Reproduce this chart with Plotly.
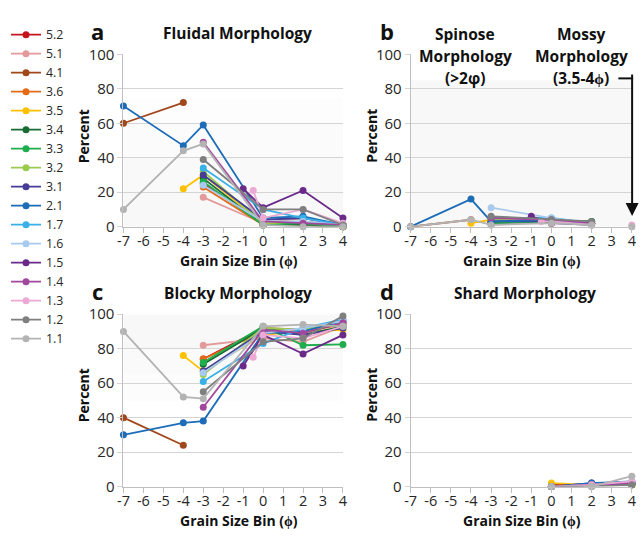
import plotly.graph_objects as go

W, H = 644, 536

# ---------------- data ----------------
series_names = ["5.2", "5.1", "4.1", "3.6", "3.5", "3.4", "3.3", "3.2", "3.1",
                "2.1", "1.7", "1.6", "1.5", "1.4", "1.3", "1.2", "1.1"]
series_colors = ["#c5141b", "#e39a9a", "#a0471c", "#e56a17", "#ffc000", "#1a6b34",
                 "#20ad4c", "#9acb4f", "#453d96", "#1c6cb8", "#39b0e6", "#a8caee",
                 "#6b2a8a", "#a2479e", "#eba9d3", "#7f7f7f", "#b3b3b3"]

# grain size bins (phi) sampled for each series
bins = [
    [-3, 0, 2, 4],            # 5.2
    [-3, 0, 2, 4],            # 5.1
    [-7, -4],                 # 4.1
    [-3, 0, 2, 4],            # 3.6
    [-4, -3, 0, 2, 4],        # 3.5
    [-3, 0, 2, 4],            # 3.4
    [-3, 0, 2, 4],            # 3.3
    [-3, 0, 2, 4],            # 3.2
    [-3, 0, 2, 4],            # 3.1
    [-7, -4, -3, 0, 2, 4],    # 2.1
    [-3, 0, 2, 4],            # 1.7
    [-3, 0, 2, 4],            # 1.6
    [-1, 0, 2, 4],            # 1.5
    [-3, 0, 2, 4],            # 1.4
    [-0.5, 0, 2, 4],          # 1.3
    [-3, 0, 2, 4],            # 1.2
    [-7, -4, -3, 0, 2, 4],    # 1.1
]

fluidal = [
    [25, 2, 1, 0],
    [17, 2, 5, 1],
    [60, 72],
    [23, 1, 1, 0],
    [22, 30, 2, 1, 0],
    [28, 1, 1, 0],
    [26, 1, 2, 0],
    [32, 2, 3, 1],
    [30, 4, 5, 1],
    [70, 47, 59, 5, 6, 1],
    [34, 10, 5, 1],
    [24, 3, 3, 1],
    [22, 11, 21, 5],
    [49, 3, 2, 1],
    [21, 5, 10, 2],
    [39, 10, 10, 1],
    [10, 44, 48, 1, 0, 0],
]

spinose = [
    [2, 3, 2, None],
    [1, 3, 2, None],
    [0, 4],
    [3, 2, 2, None],
    [2, 4, 3, 2, None],
    [2, 3, 3, None],
    [2, 3, 3, None],
    [4, 3, 2, None],
    [3, 3, 2, None],
    [0, 16, 3, 4, 2, None],
    [5, 5, 2, None],
    [11, 5, 2, None],
    [6, 2, 1, None],
    [5, 4, 2, None],
    [3, 3, 1, None],
    [6, 4, 3, None],
    [0, 4, 1, 2, 1, None],
]

# mossy morphology (3.5-4 phi), plotted at the 4 phi bin of panel b
mossy = [None, None, None, None, None, None, None, None, None,
         None, None, None, None, None, 1, None, 0]

blocky = [
    [74, 92, 91, 95],
    [82, 86, 84, 93],
    [40, 24],
    [74, 90, 90, 94],
    [76, 67, 88, 90, 91],
    [71, 92, 88, 93],
    [72, 93, 82, 82.5],
    [65, 92, 91, 95],
    [67, 90, 88, 92],
    [30, 37, 38, 89, 90, 96],
    [61, 83, 92, 97],
    [66, 89, 92, 96],
    [70, 88, 77, 88],
    [46, 91, 89, 95],
    [75, 88, 86, 93],
    [55, 84, 86, 99],
    [90, 52, 51, 93, 94, 93],
]

shard = [
    [None, 1, 1, 2],
    [None, 0, 1, 1],
    [None, None],
    [None, 0, 1, 1],
    [None, None, 2, 1, 1],
    [None, 0, 1, 1],
    [None, 0, 1, 1],
    [None, 0, 1, 1],
    [None, 0, 2, 2],
    [None, None, None, 0, 2, 3],
    [None, 0, 1, 2],
    [None, 0, 1, 3],
    [None, 0, 1, 2],
    [None, 0, 1, 2],
    [None, 0, 1, 3],
    [None, 0, 0, 1],
    [None, None, None, 0, 0, 6],
]

x_ticks = [-7, -6, -5, -4, -3, -2, -1, 0, 1, 2, 3, 4]
x_ticklabels = ["-7", "-6", "-5", "-4", "-3", "-2", "-1", "0", "1", "2", "3", "4"]
y_ticks = [0, 20, 40, 60, 80, 100]

# ---------------- layout helpers ----------------
def px(x):
    return x / W

def py(y):
    return 1 - y / H

FONT = "Open Sans"
TXT = "#262626"

fig = go.Figure()

panels = [("x", "y", fluidal), ("x2", "y2", spinose), ("x3", "y3", blocky), ("x4", "y4", shard)]
for pi, (xr, yr, data) in enumerate(panels):
    for i, name in enumerate(series_names):
        fig.add_trace(go.Scatter(
            x=bins[i], y=data[i], xaxis=xr, yaxis=yr,
            mode="lines+markers", name=name, legendgroup=name,
            showlegend=(pi == 0),
            line=dict(color=series_colors[i], width=1.8),
            marker=dict(color=series_colors[i], size=7),
            cliponaxis=False, connectgaps=False,
        ))

# mossy points in panel b
for i, name in enumerate(series_names):
    if mossy[i] is not None:
        fig.add_trace(go.Scatter(
            x=[x_ticks[-1]], y=[mossy[i]], xaxis="x2", yaxis="y2",
            mode="markers", name=name, legendgroup=name, showlegend=False,
            marker=dict(color=series_colors[i], size=7), cliponaxis=False,
        ))

xdom_l = [px(119.5), px(342.8)]
xdom_r = [px(411.7), px(636.7)]
ydom_t = [py(224), py(45)]
ydom_b = [py(494), py(315)]

def xax(dom, anchor):
    return dict(domain=dom, anchor=anchor, range=[-7, 4], tickmode="array",
                tickvals=x_ticks, ticktext=x_ticklabels, showgrid=False,
                showline=True, linecolor="#bfbfbf", linewidth=1,
                ticks="outside", ticklen=5, tickcolor="#bfbfbf",
                ticklabelstandoff=-4,
                tickfont=dict(family=FONT, size=14.5, color=TXT), zeroline=False)

def yax(dom, anchor):
    return dict(domain=dom, anchor=anchor, range=[0, 100], tickmode="array",
                tickvals=y_ticks, showgrid=True, gridcolor="#d4d4d4", gridwidth=1,
                showline=True, linecolor="#bfbfbf", linewidth=1,
                ticks="outside", ticklen=5, tickcolor="#d4d4d4",
                tickfont=dict(family=FONT, size=15, color=TXT), zeroline=False)

annotations = []

def text(x, y, s, size=15.5, bold=True, bg=None):
    a = dict(x=px(x), y=py(y), xref="paper", yref="paper", showarrow=False,
             text=("<b>%s</b>" % s) if bold else s, xanchor="center", yanchor="middle",
             font=dict(family=FONT, size=size, color="#111111"))
    if bg:
        a["bgcolor"] = bg
        a["borderpad"] = 1
    annotations.append(a)

# panel letters and titles
text(93, 21, "a", size=22)
text(235.5, 23, "Fluidal Morphology")
text(388, 21, "b", size=22)
text(93, 291, "c", size=22)
text(236, 293, "Blocky Morphology")
text(388, 291, "d", size=22)
text(528, 293, "Shard Morphology")

# spinose / mossy titles
text(467, 24, "Spinose")
text(467, 47, "Morphology", bg="white")
text(467, 70, "(&gt;2φ)")
text(585.5, 24, "Mossy")
text(585.5, 47, "Morphology", bg="white")
text(585.5, 70, "(3.5-4ϕ)")

# axis titles
for cx, cy in [(237, 259.5), (525, 259.5), (237, 529), (525, 529)]:
    text(cx, cy, "Grain Size Bin (ϕ)", size=14)
for cx, cy in [(78.5, 130), (371, 130), (78.5, 399), (371, 399)]:
    annotations.append(dict(x=px(cx), y=py(cy), xref="paper", yref="paper",
                            showarrow=False, text="<b>Percent</b>", textangle=-90,
                            xanchor="center", yanchor="middle",
                            font=dict(family=FONT, size=14, color="#111111")))

# arrow to mossy point
annotations.append(dict(x=px(637), y=py(213), xref="paper", yref="paper",
                        ax=0, ay=-(213 - 70), axref="pixel", ayref="pixel",
                        text="", showarrow=True, arrowhead=2, arrowsize=1.3,
                        arrowwidth=2, arrowcolor="#111111", standoff=0))

def band(xr, yr, y0, y1, color):
    return dict(type="rect", xref=xr, yref=yr, x0=-7, x1=4, y0=y0, y1=y1,
                fillcolor=color, line=dict(width=0), layer="below")

shapes = [
    dict(type="line", xref="paper", yref="paper", x0=px(623), x1=px(638),
         y0=py(70), y1=py(70), line=dict(color="#111111", width=2)),
    # faint plot-area shading (gradient-like bands)
    band("x", "y", 0, 20, "#f8f8f8"),
    band("x", "y", 20, 40, "#f9f9f9"),
    band("x", "y", 40, 60, "#fbfbfb"),
    band("x", "y", 60, 75, "#fdfdfd"),
    band("x2", "y2", 0, 85, "#f8f8f8"),
    band("x3", "y3", 80, 100, "#f8f8f8"),
    band("x3", "y3", 65, 80, "#fafafa"),
    band("x3", "y3", 50, 65, "#fcfcfc"),
]

fig.update_layout(
    width=W, height=H, margin=dict(l=0, r=0, t=0, b=0),
    paper_bgcolor="white", plot_bgcolor="white",
    xaxis=xax(xdom_l, "y"), yaxis=yax(ydom_t, "x"),
    xaxis2=xax(xdom_r, "y2"), yaxis2=yax(ydom_t, "x2"),
    xaxis3=xax(xdom_l, "y3"), yaxis3=yax(ydom_b, "x3"),
    xaxis4=xax(xdom_r, "y4"), yaxis4=yax(ydom_b, "x4"),
    annotations=annotations, shapes=shapes,
    legend=dict(x=0, y=py(9.5), xanchor="left", yanchor="top",
                font=dict(family=FONT, size=12.3, color=TXT),
                bgcolor="rgba(0,0,0,0)", tracegroupgap=0),
    showlegend=True,
    font=dict(family=FONT),
)

fig.write_html("out.html")
